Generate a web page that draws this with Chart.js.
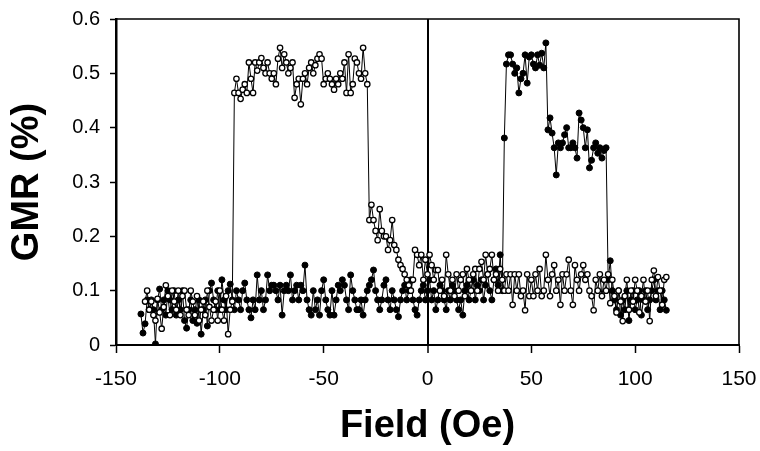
<!DOCTYPE html>
<html>
<head>
<meta charset="utf-8">
<script src="https://cdn.jsdelivr.net/npm/chart.js@4.4.1/dist/chart.umd.min.js"></script>
<style>
  html, body { margin: 0; padding: 0; background: #fff; }
  #wrap { width: 760px; height: 451px; }
</style>
</head>
<body>
<div id="wrap"><canvas id="gmr"></canvas></div>
<script>
// GMR vs field, two sweep directions (open / filled circles), 1 Oe steps

const xTicks = [-150, -100, -50, 0, 50, 100, 150];
const yTicks = [0, 0.1, 0.2, 0.3, 0.4, 0.5, 0.6];

// open circles: first field -136 Oe
const openStart = -136;
const openGMR = [
  0.08, 0.10, 0.065, 0.08, 0.055, 0.045, 0.085, 0.06, 0.03, 0.07,
  0.11, 0.09, 0.055, 0.10, 0.08, 0.065, 0.10, 0.055, 0.09, 0.10,
  0.065, 0.055, 0.10, 0.08, 0.055, 0.09, 0.045, 0.065, 0.08, 0.055,
  0.10, 0.07, 0.045, 0.065, 0.08, 0.045, 0.10, 0.065, 0.045, 0.09,
  0.02, 0.065, 0.08, 0.464, 0.49, 0.464, 0.453, 0.47, 0.48, 0.464,
  0.52, 0.49, 0.464, 0.52, 0.505, 0.52, 0.528, 0.51, 0.50, 0.52,
  0.50, 0.49, 0.50, 0.48, 0.527, 0.547, 0.51, 0.535, 0.52, 0.50,
  0.51, 0.52, 0.455, 0.48, 0.49, 0.443, 0.49, 0.50, 0.48, 0.51,
  0.52, 0.50, 0.515, 0.527, 0.535, 0.527, 0.48, 0.49, 0.50, 0.49,
  0.48, 0.47, 0.49, 0.48, 0.50, 0.49, 0.52, 0.464, 0.535, 0.464,
  0.48, 0.527, 0.52, 0.50, 0.49, 0.547, 0.50, 0.48, 0.23, 0.258,
  0.23, 0.21, 0.193, 0.25, 0.21, 0.20, 0.20, 0.175, 0.193, 0.23,
  0.184, 0.175, 0.157, 0.147, 0.14, 0.13, 0.12, 0.11, 0.10, 0.12,
  0.175, 0.166, 0.147, 0.166, 0.12, 0.157, 0.13, 0.166, 0.147, 0.12,
  0.138, 0.138, 0.10, 0.12, 0.09, 0.166, 0.13, 0.10, 0.12, 0.09,
  0.13, 0.10, 0.12, 0.13, 0.09, 0.14, 0.12, 0.10, 0.13, 0.14,
  0.10, 0.14, 0.153, 0.12, 0.166, 0.13, 0.14, 0.166, 0.12, 0.13,
  0.10, 0.14, 0.12, 0.10, 0.13, 0.10, 0.13, 0.074, 0.13, 0.10,
  0.13, 0.09, 0.10, 0.064, 0.13, 0.09, 0.12, 0.09, 0.13, 0.10,
  0.14, 0.09, 0.10, 0.166, 0.12, 0.09, 0.13, 0.147, 0.10, 0.12,
  0.074, 0.13, 0.10, 0.13, 0.157, 0.10, 0.074, 0.147, 0.12, 0.10,
  0.13, 0.147, 0.12, 0.13, 0.10, 0.09, 0.064, 0.12, 0.10, 0.13,
  0.09, 0.12, 0.10, 0.13, 0.077, 0.12, 0.09, 0.06, 0.10, 0.08,
  0.044, 0.09, 0.12, 0.065, 0.10, 0.08, 0.12, 0.10, 0.06, 0.09,
  0.12, 0.08, 0.10, 0.044, 0.12, 0.137, 0.09, 0.125, 0.10, 0.074,
  0.12, 0.125
];

// filled circles: first field -138 Oe
const filledStart = -138;
const filledGMR = [
  0.057, 0.022, 0.039, 0.083, 0.065, 0.083, 0.065, 0.002, 0.083, 0.103,
  0.065, 0.083, 0.055, 0.10, 0.083, 0.065, 0.10, 0.055, 0.083, 0.065,
  0.10, 0.045, 0.031, 0.065, 0.083, 0.045, 0.065, 0.04, 0.083, 0.02,
  0.065, 0.083, 0.035, 0.10, 0.114, 0.083, 0.065, 0.10, 0.065, 0.12,
  0.083, 0.065, 0.10, 0.112, 0.083, 0.065, 0.10, 0.083, 0.065, 0.10,
  0.114, 0.083, 0.065, 0.05, 0.083, 0.065, 0.129, 0.083, 0.10, 0.065,
  0.083, 0.129, 0.10, 0.11, 0.11, 0.10, 0.083, 0.11, 0.055, 0.10,
  0.11, 0.10, 0.129, 0.083, 0.10, 0.11, 0.083, 0.11, 0.10, 0.147,
  0.083, 0.065, 0.055, 0.10, 0.065, 0.083, 0.055, 0.10, 0.12, 0.083,
  0.065, 0.055, 0.10, 0.055, 0.083, 0.11, 0.10, 0.12, 0.11, 0.083,
  0.065, 0.129, 0.10, 0.083, 0.065, 0.065, 0.083, 0.055, 0.083, 0.10,
  0.11, 0.12, 0.138, 0.10, 0.083, 0.065, 0.083, 0.11, 0.12, 0.083,
  0.065, 0.10, 0.083, 0.065, 0.052, 0.083, 0.10, 0.11, 0.083, 0.10,
  0.12, 0.083, 0.065, 0.055, 0.083, 0.10, 0.11, 0.083, 0.10, 0.12,
  0.083, 0.10, 0.065, 0.083, 0.11, 0.10, 0.083, 0.065, 0.10, 0.083,
  0.11, 0.10, 0.083, 0.065, 0.083, 0.055, 0.10, 0.11, 0.083, 0.10,
  0.12, 0.083, 0.11, 0.10, 0.12, 0.083, 0.11, 0.13, 0.10, 0.083,
  0.12, 0.14, 0.11, 0.166, 0.10, 0.381, 0.517, 0.534, 0.534, 0.517,
  0.50, 0.51, 0.464, 0.49, 0.50, 0.534, 0.482, 0.53, 0.534, 0.517,
  0.51, 0.534, 0.515, 0.537, 0.51, 0.556, 0.396, 0.418, 0.39, 0.363,
  0.313, 0.372, 0.363, 0.372, 0.387, 0.40, 0.363, 0.363, 0.372, 0.363,
  0.344, 0.427, 0.414, 0.40, 0.363, 0.396, 0.326, 0.34, 0.363, 0.372,
  0.353, 0.363, 0.344, 0.358, 0.363, 0.12, 0.155, 0.10, 0.083, 0.065,
  0.10, 0.055, 0.083, 0.065, 0.10, 0.045, 0.083, 0.10, 0.065, 0.083,
  0.10, 0.055, 0.083, 0.10, 0.065, 0.083, 0.10, 0.12, 0.083, 0.10,
  0.065, 0.10, 0.083, 0.064
];

const FONT = '"Liberation Sans", Arial, Helvetica, sans-serif';

function toPoints(start, values) {
  return values.map((v, i) => ({ x: start + i, y: v }));
}

// top and right sides of the plot box
const frame = {
  id: 'frame',
  afterDraw(chart) {
    const { ctx, chartArea: a } = chart;
    ctx.save();
    ctx.strokeStyle = '#000';
    ctx.lineWidth = 1.6;
    ctx.beginPath();
    ctx.moveTo(a.left, a.top);
    ctx.lineTo(a.right, a.top);
    ctx.lineTo(a.right, a.bottom);
    ctx.stroke();
    ctx.restore();
  }
};

new Chart(document.getElementById('gmr'), {
  type: 'scatter',
  data: {
    datasets: [
      {
        label: 'open',
        data: toPoints(openStart, openGMR),
        showLine: true,
        borderColor: '#000',
        borderWidth: 1,
        pointRadius: 2.7,
        pointBorderWidth: 1.3,
        pointBackgroundColor: '#fff',
        pointBorderColor: '#000'
      },
      {
        label: 'filled',
        data: toPoints(filledStart, filledGMR),
        showLine: true,
        borderColor: '#000',
        borderWidth: 1,
        pointRadius: 3,
        pointBorderWidth: 1,
        pointBackgroundColor: '#000',
        pointBorderColor: '#000'
      }
    ]
  },
  options: {
    responsive: true,
    maintainAspectRatio: false,
    animation: false,
    layout: { padding: { top: 19, right: 21, left: 0, bottom: 0 } },
    plugins: {
      legend: { display: false },
      tooltip: { enabled: false }
    },
    scales: {
      x: {
        type: 'linear',
        min: -150,
        max: 150,
        afterBuildTicks: s => { s.ticks = xTicks.map(v => ({ value: v })); },
        afterFit: s => {
          s.height = 106;
          s.paddingLeft = 0;
          s.paddingRight = 0;
        },
        border: { display: true, color: '#000', width: 2 },
        grid: {
          color: c => (c.tick && c.tick.value === 0 ? '#000' : 'rgba(0,0,0,0)'),
          lineWidth: c => (c.tick && c.tick.value === 0 ? 2 : 1),
          tickColor: '#000',
          tickWidth: 1.5,
          tickLength: 8
        },
        ticks: {
          color: '#000',
          padding: 14,
          maxRotation: 0,
          font: { family: FONT, size: 21 },
          callback: v => String(v)
        },
        title: {
          display: true,
          text: 'Field (Oe)',
          color: '#000',
          padding: { top: 0, bottom: 2 },
          font: { family: FONT, size: 38, weight: 'bold' }
        }
      },
      y: {
        type: 'linear',
        min: 0,
        max: 0.6,
        afterBuildTicks: s => { s.ticks = yTicks.map(v => ({ value: v })); },
        afterFit: s => {
          s.width = 116;
          s.paddingTop = 0;
          s.paddingBottom = 0;
        },
        border: { display: true, color: '#000', width: 2.5 },
        grid: {
          drawOnChartArea: false,
          color: '#000',
          tickColor: '#000',
          tickWidth: 1.5,
          tickLength: 6
        },
        ticks: {
          color: '#000',
          padding: 10,
          font: { family: FONT, size: 20 },
          callback: v => String(v)
        },
        title: {
          display: true,
          text: 'GMR (%)',
          color: '#000',
          padding: { top: 5, bottom: 0 },
          font: { family: FONT, size: 38, weight: 'bold' }
        }
      }
    }
  },
  plugins: [frame]
});
</script>
</body>
</html>
